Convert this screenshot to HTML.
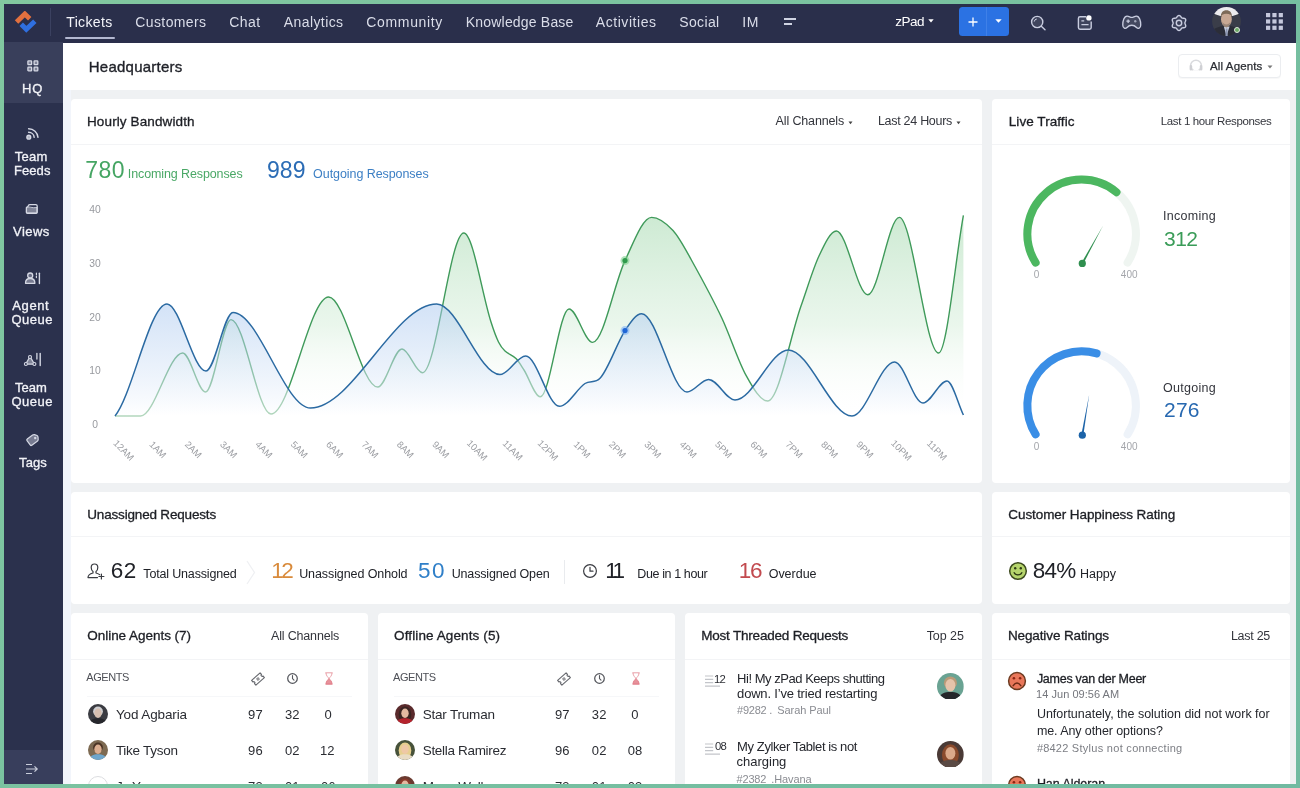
<!DOCTYPE html>
<html><head><meta charset="utf-8"><title>Headquarters</title>
<style>
html,body{margin:0;padding:0}
body{width:1300px;height:788px;overflow:hidden;position:relative;background:#76c4a0;font-family:"Liberation Sans",sans-serif}
#app{position:absolute;left:0;top:0;width:1300px;height:788px;overflow:hidden}
.t{position:absolute;white-space:nowrap;line-height:1}
svg text{font-family:"Liberation Sans",sans-serif}
</style></head><body><div id="app">
<div style="position:absolute;left:0;top:0;width:1300px;height:788px;background:#eff1f3"></div>
<div style="position:absolute;left:0;top:0;width:1300px;height:42.6px;background:#2a2f4b"></div>
<div style="position:absolute;left:0;top:42px;width:63px;height:746px;background:#2b314d"></div>
<div style="position:absolute;left:0;top:42px;width:63px;height:60.5px;background:#393f5b"></div>
<div style="position:absolute;left:0;top:750px;width:63px;height:38px;background:#383e5c"></div>
<div style="position:absolute;left:49.5px;top:8px;width:1px;height:28px;background:#3b4160"></div>
<svg style="position:absolute;left:13.6px;top:10.6px" width="25.5" height="25.5" viewBox="0 0 24 24">
<path d="M2.4,10.4 L10.2,2.8 L14.8,7.2" fill="none" stroke="#e2703f" stroke-width="4.6" stroke-linejoin="miter"/>
<path d="M6.8,12.4 L11.6,17.2 L19.6,9.6" fill="none" stroke="#2f6fe0" stroke-width="4.6" stroke-linejoin="miter"/>
</svg>
<span class="t" style="left:66.3px;top:15.0px;font-size:14px;color:#f4f5fa;letter-spacing:0.34px;">Tickets</span>
<span class="t" style="left:135.3px;top:15.0px;font-size:14px;color:#dadde9;letter-spacing:0.39px;">Customers</span>
<span class="t" style="left:229.3px;top:15.0px;font-size:14px;color:#dadde9;letter-spacing:0.41px;">Chat</span>
<span class="t" style="left:283.8px;top:15.0px;font-size:14px;color:#dadde9;letter-spacing:0.41px;">Analytics</span>
<span class="t" style="left:366.3px;top:15.0px;font-size:14px;color:#dadde9;letter-spacing:0.66px;">Community</span>
<span class="t" style="left:465.8px;top:15.0px;font-size:14px;color:#dadde9;letter-spacing:0.19px;">Knowledge Base</span>
<span class="t" style="left:595.8px;top:15.0px;font-size:14px;color:#dadde9;letter-spacing:0.55px;">Activities</span>
<span class="t" style="left:679.3px;top:15.0px;font-size:14px;color:#dadde9;letter-spacing:0.34px;">Social</span>
<span class="t" style="left:742.3px;top:15.0px;font-size:14px;color:#dadde9;letter-spacing:0.57px;">IM</span>
<div style="position:absolute;left:64.5px;top:37.2px;width:50.8px;height:1.6px;background:#b3b8d0;border-radius:1px"></div>
<div style="position:absolute;left:784px;top:18px;width:12px;height:1.5px;background:#cfd3e2"></div>
<div style="position:absolute;left:784px;top:23px;width:8px;height:1.5px;background:#cfd3e2"></div>
<span class="t" style="left:895.2px;top:15.2px;font-size:13.5px;color:#ffffff;letter-spacing:-0.47px;">zPad</span>
<svg style="position:absolute;left:928px;top:19.4px" width="6" height="4"><path d="M0.3,0.3L5.7,0.3L3,3.6Z" fill="#fff"/></svg>
<div style="position:absolute;left:959px;top:7px;width:49.5px;height:28.5px;background:#2b72e3;border-radius:3.5px"></div>
<div style="position:absolute;left:986.3px;top:7px;width:1px;height:28.5px;background:#3f80e8"></div>
<svg style="position:absolute;left:968px;top:16.5px" width="10" height="10"><path d="M5,0.5V9.5M0.5,5H9.5" stroke="#fff" stroke-width="1.3" fill="none"/></svg>
<svg style="position:absolute;left:995px;top:19.3px" width="7" height="4"><path d="M0.3,0.3L6.7,0.3L3.5,3.8Z" fill="#fff"/></svg>
<svg style="position:absolute;left:1029px;top:14px" width="18" height="18" viewBox="0 0 18 18" fill="none" stroke="#c9cde0" stroke-width="1.4">
<circle cx="8.2" cy="8" r="5.6" fill="rgba(255,255,255,0.10)"/><path d="M12.3,12.2L16,15.8" stroke-linecap="round"/><path d="M5.2,7.6a3,3 0 0 1 2.6,-2.6" stroke-width="1"/></svg>
<svg style="position:absolute;left:1076px;top:14px" width="18" height="18" viewBox="0 0 18 18" fill="none" stroke="#c9cde0" stroke-width="1.4">
<path d="M10,2.8H4A1.6,1.6 0 0 0 2.4,4.4V13.6A1.6,1.6 0 0 0 4,15.2H13.6A1.6,1.6 0 0 0 15.2,13.6V7.5" fill="rgba(255,255,255,0.10)"/><path d="M5.4,6.8H8.2M5.4,10.6H12.6" stroke-width="1.3"/><circle cx="12.9" cy="3.9" r="2.7" fill="#fff" stroke="none"/></svg>
<svg style="position:absolute;left:1122px;top:15.2px" width="19.5" height="15" viewBox="0 0 20 15" fill="none" stroke="#c9cde0" stroke-width="1.4">
<path d="M5.2,0.9C7.2,0.9 8.4,2.3 10,2.3C11.6,2.3 12.8,0.9 14.8,0.9C17.9,0.9 19.2,6.2 19.2,10C19.2,13.6 16.4,14.2 14.9,12.6C13.5,11.1 12,10.3 10,10.3C8,10.3 6.5,11.1 5.1,12.6C3.6,14.2 0.8,13.6 0.8,10C0.8,6.2 2.1,0.9 5.2,0.9Z" stroke-linejoin="round" fill="rgba(255,255,255,0.12)"/>
<path d="M6.3,4.4V8M4.5,6.2H8.1" stroke-width="1.3"/><circle cx="13.6" cy="6.2" r="1.2" fill="#c9cde0" fill-opacity="0.7" stroke="none"/></svg>
<svg style="position:absolute;left:1169.5px;top:13.7px" width="18" height="18" viewBox="0 0 18 18" fill="none" stroke="#c9cde0" stroke-width="1.4">
<path d="M9.00,1.45L9.65,1.59L10.24,1.98L10.73,2.53L11.15,3.10L11.52,3.59L11.93,3.93L12.42,4.11L13.03,4.19L13.74,4.26L14.46,4.42L15.09,4.73L15.54,5.22L15.74,5.86L15.70,6.56L15.47,7.27L15.18,7.91L14.94,8.48L14.85,9.00L14.94,9.52L15.18,10.09L15.47,10.73L15.70,11.44L15.74,12.14L15.54,12.77L15.09,13.27L14.46,13.58L13.74,13.74L13.03,13.81L12.42,13.89L11.93,14.07L11.52,14.41L11.15,14.90L10.73,15.47L10.24,16.02L9.65,16.41L9.00,16.55L8.35,16.41L7.76,16.02L7.27,15.47L6.85,14.90L6.48,14.41L6.07,14.07L5.58,13.89L4.97,13.81L4.26,13.74L3.54,13.58L2.91,13.27L2.46,12.78L2.26,12.14L2.30,11.44L2.53,10.73L2.82,10.09L3.06,9.52L3.15,9.00L3.06,8.48L2.82,7.91L2.53,7.27L2.30,6.56L2.26,5.86L2.46,5.22L2.91,4.73L3.54,4.42L4.26,4.26L4.97,4.19L5.58,4.11L6.07,3.93L6.48,3.59L6.85,3.10L7.27,2.53L7.76,1.98L8.35,1.59Z" stroke-linejoin="round" fill="rgba(255,255,255,0.08)"/><circle cx="9" cy="9" r="2.7"/></svg>
<svg style="position:absolute;left:1212px;top:6.8px" width="29" height="29" viewBox="0 0 29 29"><defs><clipPath id="avc"><circle cx="14.5" cy="14.5" r="14.4"/></clipPath></defs>
<g clip-path="url(#avc)"><rect width="29" height="29" fill="#3a3d49"/><ellipse cx="14.5" cy="2" rx="16" ry="7.4" fill="#ecebee"/>
<path d="M0,29V24C3,20.5 8,19.5 10.5,19H18.5C21,19.5 26,20.5 29,24V29Z" fill="#2b2d38"/>
<path d="M11.8,19.5L14.5,29L17.6,19.5Z" fill="#c9cfdf"/><path d="M13.8,21.5H15.4L15.8,29H13.4Z" fill="#8d97b3"/>
<ellipse cx="14.4" cy="12.3" rx="5.4" ry="7.3" fill="#c8a894"/><path d="M8.8,11C8.4,5.5 11,3.2 14.4,3.2C17.8,3.2 20.4,5.5 20,11C19.4,8.2 18,6.8 14.4,6.8C10.8,6.8 9.4,8.2 8.8,11Z" fill="#7d6a58"/>
<path d="M10.3,14.6C11,19.6 12.8,20.4 14.4,20.4C16,20.4 17.8,19.6 18.5,14.6C17.4,17 16,17.4 14.4,17.4C12.8,17.4 11.4,17 10.3,14.6Z" fill="#9a8577"/></g></svg>
<div style="position:absolute;left:1234.2px;top:26.5px;width:4px;height:4px;border-radius:50%;background:#6aa865;border:1.6px solid #dfe8dc"></div>
<svg style="position:absolute;left:1266.2px;top:12.9px" width="17" height="17"><rect x="0.00" y="0.00" width="4.2" height="4.2" fill="#c5c8dc"/><rect x="6.35" y="0.00" width="4.2" height="4.2" fill="#c5c8dc"/><rect x="12.70" y="0.00" width="4.2" height="4.2" fill="#c5c8dc"/><rect x="0.00" y="6.35" width="4.2" height="4.2" fill="#c5c8dc"/><rect x="6.35" y="6.35" width="4.2" height="4.2" fill="#c5c8dc"/><rect x="12.70" y="6.35" width="4.2" height="4.2" fill="#c5c8dc"/><rect x="0.00" y="12.70" width="4.2" height="4.2" fill="#c5c8dc"/><rect x="6.35" y="12.70" width="4.2" height="4.2" fill="#c5c8dc"/><rect x="12.70" y="12.70" width="4.2" height="4.2" fill="#c5c8dc"/></svg>
<span class="t" style="left:21.9px;top:82.0px;font-size:13px;color:#f1f2f7;letter-spacing:0.85px;-webkit-text-stroke:0.32px #f1f2f7;">HQ</span>
<span class="t" style="left:14.7px;top:149.8px;font-size:13px;color:#f1f2f7;letter-spacing:0.25px;-webkit-text-stroke:0.32px #f1f2f7;">Team</span>
<span class="t" style="left:13.9px;top:164.0px;font-size:13px;color:#f1f2f7;letter-spacing:0.09px;-webkit-text-stroke:0.32px #f1f2f7;">Feeds</span>
<span class="t" style="left:13.1px;top:224.8px;font-size:13px;color:#f1f2f7;letter-spacing:0.43px;-webkit-text-stroke:0.32px #f1f2f7;">Views</span>
<span class="t" style="left:12.3px;top:298.8px;font-size:13px;color:#f1f2f7;letter-spacing:0.59px;-webkit-text-stroke:0.32px #f1f2f7;">Agent</span>
<span class="t" style="left:11.5px;top:312.8px;font-size:13px;color:#f1f2f7;letter-spacing:0.47px;-webkit-text-stroke:0.32px #f1f2f7;">Queue</span>
<span class="t" style="left:15.1px;top:380.8px;font-size:13px;color:#f1f2f7;letter-spacing:-0.02px;-webkit-text-stroke:0.32px #f1f2f7;">Team</span>
<span class="t" style="left:11.5px;top:394.8px;font-size:13px;color:#f1f2f7;letter-spacing:0.47px;-webkit-text-stroke:0.32px #f1f2f7;">Queue</span>
<span class="t" style="left:19.1px;top:455.8px;font-size:13px;color:#f1f2f7;letter-spacing:0.06px;-webkit-text-stroke:0.32px #f1f2f7;">Tags</span>
<svg style="position:absolute;left:27px;top:60.3px" width="12" height="12" viewBox="0 0 12 12" fill="#d5d8e4" fill-opacity="0.45" stroke="#d5d8e4" stroke-width="1.3">
<rect x="0.9" y="0.9" width="3.7" height="3.7" rx="0.6"/><rect x="7.1" y="0.9" width="3.7" height="3.7" rx="0.6"/><rect x="0.9" y="7.1" width="3.7" height="3.7" rx="0.6"/><rect x="7.1" y="7.1" width="3.7" height="3.7" rx="0.6"/></svg>
<svg style="position:absolute;left:0;top:0" width="64" height="500" fill="none" stroke="#d5d8e4" stroke-width="1.4" stroke-linecap="round">
<circle cx="28.8" cy="137.2" r="1.9" fill="#d5d8e4" fill-opacity="0.8"/><path d="M28.6,132.3A5.6,5.6 0 0 1 34.2,137.4"/><path d="M28.6,128.7A9.4,9.4 0 0 1 38,137.4"/>
<!-- views -->
<path d="M26.4,207.6V212.3Q26.4,213.3 27.4,213.3H36.2Q37.2,213.3 37.2,212.3V206Q37.2,204.6 35.8,204.6H30Q28.8,204.6 28.4,205.6L27.6,206.8Q26.4,206.9 26.4,207.6Z" stroke-width="1.3" stroke-linejoin="round"/>
<path d="M26.8,207.6C29,205.6 31.5,208.6 37,207.4V212.8H26.8Z" fill="#d5d8e4" fill-opacity="0.5" stroke-width="0.9"/>
<!-- agent queue -->
<circle cx="30.2" cy="275.5" r="2.5" stroke-width="1.3" fill="#d5d8e4" fill-opacity="0.35"/>
<path d="M25.5,283.3C25.5,279.6 27.6,278.5 30.2,278.5C32.8,278.5 34.9,279.6 34.9,283.3Z" stroke-width="1.3" stroke-linejoin="round" fill="#d5d8e4" fill-opacity="0.45"/>
<path d="M36.4,273.2V274.6M36.4,276V277.6" stroke-width="1.2"/><path d="M39.4,273.2V283.5" stroke-width="1.4"/>
<!-- team queue -->
<path d="M30,356.6L25.6,364.2H34.6Z" stroke-width="1.2" stroke-linejoin="round" fill="#d5d8e4" fill-opacity="0.5"/>
<circle cx="30" cy="357" r="1.5" fill="#2b314d" stroke-width="1.1"/><circle cx="25.9" cy="364" r="1.5" fill="#2b314d" stroke-width="1.1"/><circle cx="34.4" cy="364" r="1.5" fill="#2b314d" stroke-width="1.1"/>
<path d="M36.9,353.4V359" stroke-width="1.3"/><path d="M40.2,353.4V365.5" stroke-width="1.4"/>
<!-- tags -->
<g transform="rotate(-36 32.8 439.7)"><path d="M27.6,437V442.4Q27.6,443.6 28.8,443.6H35.4Q36.4,443.6 37.2,442.8L38.6,440.6Q39,439.7 38.6,438.8L37.2,436.6Q36.4,435.8 35.4,435.8H28.8Q27.6,435.8 27.6,437Z" stroke-width="1.2" fill="#d5d8e4" fill-opacity="0.45"/><circle cx="35.8" cy="439.7" r="1.2" fill="#d5d8e4" stroke="none"/></g>
</svg>
<svg style="position:absolute;left:24px;top:762.7px" width="15" height="12" viewBox="0 0 15 12" fill="none" stroke="#c9cddb" stroke-width="1.2">
<path d="M2,1.5H8M2,6H13M2,10.5H8M10.5,3.4L13.2,6L10.5,8.6"/></svg>
<div style="position:absolute;left:63px;top:43px;width:1237px;height:47px;background:#fff"></div>
<div style="position:absolute;left:63px;top:90px;width:8px;height:698px;background:#f2f5fb"></div>
<span class="t" style="left:88.8px;top:58.7px;font-size:15px;color:#1f2128;letter-spacing:0.23px;-webkit-text-stroke:0.35px #1f2128;">Headquarters</span>
<div style="position:absolute;left:1178px;top:54px;width:103px;height:24px;border:1px solid #ebedf0;border-radius:4px;box-sizing:border-box;background:#fff;box-shadow:0 1px 1px rgba(0,0,0,.03)"></div>
<svg style="position:absolute;left:1188px;top:58px" width="16" height="16" viewBox="0 0 16 16" fill="none" stroke="#c9cbd0" stroke-width="1.6">
<circle cx="8" cy="7.6" r="5.4" stroke="#d9dadd" stroke-width="1.5"/><path d="M2.9,8.2V11.2M13.1,8.2V11.2" stroke="#cfd0d4" stroke-width="2.6" stroke-linecap="round"/><path d="M5,13.4H11" stroke="#ffffff" stroke-width="2.4"/></svg>
<span class="t" style="left:1210.1px;top:60.5px;font-size:11.5px;color:#2b2d33;letter-spacing:0.11px;-webkit-text-stroke:0.25px #2b2d33;">All Agents</span>
<svg style="position:absolute;left:1267px;top:64.5px" width="6" height="4"><path d="M0.5,0.5H5.5L3,3.5Z" fill="#777"/></svg>
<div style="position:absolute;left:71px;top:99px;width:911px;height:384px;background:#fff;border-radius:4px"></div>
<div style="position:absolute;left:992px;top:99px;width:298px;height:384px;background:#fff;border-radius:4px"></div>
<div style="position:absolute;left:71px;top:492px;width:911px;height:112px;background:#fff;border-radius:4px"></div>
<div style="position:absolute;left:992px;top:492px;width:298px;height:112px;background:#fff;border-radius:4px"></div>
<div style="position:absolute;left:71px;top:613px;width:297px;height:187px;background:#fff;border-radius:4px"></div>
<div style="position:absolute;left:378px;top:613px;width:297px;height:187px;background:#fff;border-radius:4px"></div>
<div style="position:absolute;left:685px;top:613px;width:297px;height:187px;background:#fff;border-radius:4px"></div>
<div style="position:absolute;left:992px;top:613px;width:298px;height:187px;background:#fff;border-radius:4px"></div>
<div style="position:absolute;left:71px;top:144px;width:911px;height:1px;background:#f3f4f6"></div>
<div style="position:absolute;left:992px;top:144px;width:298px;height:1px;background:#f3f4f6"></div>
<div style="position:absolute;left:71px;top:536px;width:911px;height:1px;background:#f3f4f6"></div>
<div style="position:absolute;left:992px;top:536px;width:298px;height:1px;background:#f3f4f6"></div>
<div style="position:absolute;left:71px;top:659px;width:297px;height:1px;background:#f3f4f6"></div>
<div style="position:absolute;left:378px;top:659px;width:297px;height:1px;background:#f3f4f6"></div>
<div style="position:absolute;left:685px;top:659px;width:297px;height:1px;background:#f3f4f6"></div>
<div style="position:absolute;left:992px;top:659px;width:298px;height:1px;background:#f3f4f6"></div>
<div style="position:absolute;left:87px;top:696px;width:265px;height:1px;background:#f6f7f9"></div>
<div style="position:absolute;left:394px;top:696px;width:265px;height:1px;background:#f6f7f9"></div>
<span class="t" style="left:87.0px;top:114.8px;font-size:13.5px;color:#1d1f25;letter-spacing:0.12px;-webkit-text-stroke:0.32px #1d1f25;">Hourly Bandwidth</span>
<span class="t" style="left:1008.8px;top:114.8px;font-size:13.5px;color:#1d1f25;letter-spacing:0.06px;-webkit-text-stroke:0.32px #1d1f25;">Live Traffic</span>
<span class="t" style="left:87.3px;top:507.5px;font-size:13.5px;color:#1d1f25;letter-spacing:-0.18px;-webkit-text-stroke:0.32px #1d1f25;">Unassigned Requests</span>
<span class="t" style="left:1008.3px;top:507.5px;font-size:13.5px;color:#1d1f25;letter-spacing:-0.08px;-webkit-text-stroke:0.32px #1d1f25;">Customer Happiness Rating</span>
<span class="t" style="left:87.3px;top:629.4px;font-size:13.5px;color:#1d1f25;letter-spacing:-0.04px;-webkit-text-stroke:0.32px #1d1f25;">Online Agents (7)</span>
<span class="t" style="left:394.1px;top:629.4px;font-size:13.5px;color:#1d1f25;letter-spacing:0.11px;-webkit-text-stroke:0.32px #1d1f25;">Offline Agents (5)</span>
<span class="t" style="left:701.2px;top:629.4px;font-size:13.5px;color:#1d1f25;letter-spacing:-0.20px;-webkit-text-stroke:0.32px #1d1f25;">Most Threaded Requests</span>
<span class="t" style="left:1007.9px;top:629.4px;font-size:13.5px;color:#1d1f25;letter-spacing:-0.11px;-webkit-text-stroke:0.32px #1d1f25;">Negative Ratings</span>
<span class="t" style="left:775.6px;top:115.1px;font-size:12.5px;color:#33353c;letter-spacing:-0.14px;">All Channels</span>
<span class="t" style="left:877.9px;top:115.1px;font-size:12.5px;color:#33353c;letter-spacing:-0.28px;">Last 24 Hours</span>
<svg style="position:absolute;left:848px;top:121px" width="5" height="4"><path d="M0.5,0.5H4.5L2.5,3.2Z" fill="#444"/></svg>
<svg style="position:absolute;left:956px;top:121px" width="5" height="4"><path d="M0.5,0.5H4.5L2.5,3.2Z" fill="#444"/></svg>
<span class="t" style="left:1160.8px;top:116.0px;font-size:11.5px;color:#33353c;letter-spacing:-0.37px;">Last 1 hour Responses</span>
<span class="t" style="left:271.0px;top:630.0px;font-size:12.5px;color:#33353c;letter-spacing:-0.17px;">All Channels</span>
<span class="t" style="left:926.7px;top:630.0px;font-size:12.5px;color:#33353c;letter-spacing:-0.07px;">Top 25</span>
<span class="t" style="left:1230.9px;top:630.0px;font-size:12.5px;color:#33353c;letter-spacing:-0.27px;">Last 25</span>
<span class="t" style="left:85.3px;top:159.4px;font-size:23px;color:#45a563;letter-spacing:0.47px;">780</span>
<span class="t" style="left:127.8px;top:168.3px;font-size:12.5px;color:#4aa866;letter-spacing:-0.11px;">Incoming Responses</span>
<span class="t" style="left:267.0px;top:159.4px;font-size:23px;color:#2b6cb5;letter-spacing:0.04px;">989</span>
<span class="t" style="left:313.1px;top:168.3px;font-size:12.5px;color:#3c7fc4;letter-spacing:-0.07px;">Outgoing Responses</span>
<svg style="position:absolute;left:0;top:0" width="1300" height="788" viewBox="0 0 1300 788"><defs>
<linearGradient id="gg" gradientUnits="userSpaceOnUse" x1="0" y1="215" x2="0" y2="416"><stop offset="0" stop-color="#57b86a" stop-opacity="0.30"/><stop offset="0.55" stop-color="#7cc98a" stop-opacity="0.16"/><stop offset="1" stop-color="#ffffff" stop-opacity="0"/></linearGradient>
<linearGradient id="bg" gradientUnits="userSpaceOnUse" x1="0" y1="300" x2="0" y2="416"><stop offset="0" stop-color="#a4c4ee" stop-opacity="0.5"/><stop offset="0.5" stop-color="#cfe0f6" stop-opacity="0.5"/><stop offset="1" stop-color="#ffffff" stop-opacity="0.6"/></linearGradient>
</defs><path d="M115.0,416.0C123.5,416.0 132.1,416.0 140.6,416.0C154.6,416.0 168.7,353.0 182.7,353.0C190.3,353.0 197.9,392.0 205.5,392.0C214.0,392.0 222.5,319.6 231.0,319.6C244.3,319.6 257.7,414.0 271.0,414.0C290.2,414.0 309.4,297.0 328.6,297.0C345.0,297.0 361.3,387.0 377.7,387.0C385.8,387.0 393.9,349.0 402.0,349.0C408.8,349.0 415.7,372.7 422.5,372.7C436.3,372.7 450.0,233.0 463.8,233.0C472.9,233.0 481.9,293.5 491.0,322.0C493.5,329.9 496.0,336.8 498.5,342.0C500.7,346.5 502.8,349.0 505.0,351.0C508.7,354.5 512.3,354.8 516.0,358.5C518.7,361.2 521.3,365.8 524.0,370.0C529.4,378.6 534.9,396.8 540.3,396.8C549.9,396.8 559.4,309.0 569.0,309.0C576.9,309.0 584.7,342.4 592.6,342.4C603.4,342.4 614.2,283.5 625.0,260.6C633.9,241.8 642.7,217.4 651.6,217.4C658.7,217.4 665.9,222.9 673.0,230.5C679.1,237.1 685.3,249.0 691.4,260.0C701.5,278.2 711.7,296.6 721.8,318.0C729.9,335.2 738.1,361.0 746.2,375.7C753.3,388.6 760.5,401.0 767.6,401.0C778.7,401.0 789.9,337.4 801.0,306.0C807.1,288.9 813.1,268.4 819.2,255.5C824.9,243.4 830.7,231.0 836.4,231.0C846.9,231.0 857.3,294.8 867.8,294.8C878.3,294.8 888.8,217.4 899.3,217.4C912.4,217.4 925.5,353.0 938.6,353.0C946.9,353.0 955.1,261.3 963.4,215.4L963.4,417L115,417Z" fill="url(#gg)"/><path d="M115.0,416.0C123.5,416.0 132.1,416.0 140.6,416.0C154.6,416.0 168.7,353.0 182.7,353.0C190.3,353.0 197.9,392.0 205.5,392.0C214.0,392.0 222.5,319.6 231.0,319.6C244.3,319.6 257.7,414.0 271.0,414.0C290.2,414.0 309.4,297.0 328.6,297.0C345.0,297.0 361.3,387.0 377.7,387.0C385.8,387.0 393.9,349.0 402.0,349.0C408.8,349.0 415.7,372.7 422.5,372.7C436.3,372.7 450.0,233.0 463.8,233.0C472.9,233.0 481.9,293.5 491.0,322.0C493.5,329.9 496.0,336.8 498.5,342.0C500.7,346.5 502.8,349.0 505.0,351.0C508.7,354.5 512.3,354.8 516.0,358.5C518.7,361.2 521.3,365.8 524.0,370.0C529.4,378.6 534.9,396.8 540.3,396.8C549.9,396.8 559.4,309.0 569.0,309.0C576.9,309.0 584.7,342.4 592.6,342.4C603.4,342.4 614.2,283.5 625.0,260.6C633.9,241.8 642.7,217.4 651.6,217.4C658.7,217.4 665.9,222.9 673.0,230.5C679.1,237.1 685.3,249.0 691.4,260.0C701.5,278.2 711.7,296.6 721.8,318.0C729.9,335.2 738.1,361.0 746.2,375.7C753.3,388.6 760.5,401.0 767.6,401.0C778.7,401.0 789.9,337.4 801.0,306.0C807.1,288.9 813.1,268.4 819.2,255.5C824.9,243.4 830.7,231.0 836.4,231.0C846.9,231.0 857.3,294.8 867.8,294.8C878.3,294.8 888.8,217.4 899.3,217.4C912.4,217.4 925.5,353.0 938.6,353.0C946.9,353.0 955.1,261.3 963.4,215.4" fill="none" stroke="#3f9a5a" stroke-width="1.4"/><path d="M115.0,416.0C132.3,395.2 149.7,304.0 167.0,304.0C180.0,304.0 193.0,371.0 206.0,371.0C215.0,371.0 224.0,312.5 233.0,312.5C258.8,312.5 284.7,408.0 310.5,408.0C352.6,408.0 394.6,304.0 436.7,304.0C457.8,304.0 478.9,374.6 500.0,374.6C508.6,374.6 517.1,356.0 525.7,356.0C536.9,356.0 548.1,406.3 559.3,406.3C567.9,406.3 576.4,389.4 585.0,383.5C590.0,380.1 595.0,383.5 600.0,378.3C608.3,369.6 616.7,343.5 625.0,330.6C630.6,322.0 636.1,313.7 641.7,313.7C656.8,313.7 671.9,392.0 687.0,392.0C694.2,392.0 701.4,379.4 708.6,379.4C717.4,379.4 726.2,400.0 735.0,400.0C752.8,400.0 770.6,350.0 788.4,350.0C809.6,350.0 830.8,416.0 852.0,416.0C866.2,416.0 880.4,362.0 894.6,362.0C904.1,362.0 913.5,403.0 923.0,403.0C931.0,403.0 939.0,381.0 947.0,381.0C952.5,381.0 957.9,403.7 963.4,415.0L963.4,417L115,417Z" fill="url(#bg)"/><path d="M115.0,416.0C132.3,395.2 149.7,304.0 167.0,304.0C180.0,304.0 193.0,371.0 206.0,371.0C215.0,371.0 224.0,312.5 233.0,312.5C258.8,312.5 284.7,408.0 310.5,408.0C352.6,408.0 394.6,304.0 436.7,304.0C457.8,304.0 478.9,374.6 500.0,374.6C508.6,374.6 517.1,356.0 525.7,356.0C536.9,356.0 548.1,406.3 559.3,406.3C567.9,406.3 576.4,389.4 585.0,383.5C590.0,380.1 595.0,383.5 600.0,378.3C608.3,369.6 616.7,343.5 625.0,330.6C630.6,322.0 636.1,313.7 641.7,313.7C656.8,313.7 671.9,392.0 687.0,392.0C694.2,392.0 701.4,379.4 708.6,379.4C717.4,379.4 726.2,400.0 735.0,400.0C752.8,400.0 770.6,350.0 788.4,350.0C809.6,350.0 830.8,416.0 852.0,416.0C866.2,416.0 880.4,362.0 894.6,362.0C904.1,362.0 913.5,403.0 923.0,403.0C931.0,403.0 939.0,381.0 947.0,381.0C952.5,381.0 957.9,403.7 963.4,415.0" fill="none" stroke="#2b6aa2" stroke-width="1.5"/><circle cx="625" cy="260.6" r="4.5" fill="#7fd08d" fill-opacity="0.6"/><circle cx="625" cy="260.6" r="2.6" fill="#2f9a4c"/><circle cx="625" cy="330.6" r="4.5" fill="#7fb2f5" fill-opacity="0.6"/><circle cx="625" cy="330.6" r="2.6" fill="#1f66d6"/><text x="95" y="213.4" text-anchor="middle" font-size="10.3" fill="#97999e">40</text><text x="95" y="266.9" text-anchor="middle" font-size="10.3" fill="#97999e">30</text><text x="95" y="320.5" text-anchor="middle" font-size="10.3" fill="#97999e">20</text><text x="95" y="374.1" text-anchor="middle" font-size="10.3" fill="#97999e">10</text><text x="95" y="427.6" text-anchor="middle" font-size="10.3" fill="#97999e">0</text><text x="123.8" y="453.5" text-anchor="middle" font-size="9.4" fill="#9b9da2" transform="rotate(45 123.8 450.2)">12AM</text><text x="157.9" y="452.9" text-anchor="middle" font-size="9.4" fill="#9b9da2" transform="rotate(45 157.9 449.6)">1AM</text><text x="193.3" y="452.9" text-anchor="middle" font-size="9.4" fill="#9b9da2" transform="rotate(45 193.3 449.6)">2AM</text><text x="228.7" y="452.9" text-anchor="middle" font-size="9.4" fill="#9b9da2" transform="rotate(45 228.7 449.6)">3AM</text><text x="264.0" y="452.9" text-anchor="middle" font-size="9.4" fill="#9b9da2" transform="rotate(45 264.0 449.6)">4AM</text><text x="299.4" y="452.9" text-anchor="middle" font-size="9.4" fill="#9b9da2" transform="rotate(45 299.4 449.6)">5AM</text><text x="334.7" y="452.9" text-anchor="middle" font-size="9.4" fill="#9b9da2" transform="rotate(45 334.7 449.6)">6AM</text><text x="370.1" y="452.9" text-anchor="middle" font-size="9.4" fill="#9b9da2" transform="rotate(45 370.1 449.6)">7AM</text><text x="405.4" y="452.9" text-anchor="middle" font-size="9.4" fill="#9b9da2" transform="rotate(45 405.4 449.6)">8AM</text><text x="440.8" y="452.9" text-anchor="middle" font-size="9.4" fill="#9b9da2" transform="rotate(45 440.8 449.6)">9AM</text><text x="477.3" y="453.5" text-anchor="middle" font-size="9.4" fill="#9b9da2" transform="rotate(45 477.3 450.2)">10AM</text><text x="512.7" y="453.5" text-anchor="middle" font-size="9.4" fill="#9b9da2" transform="rotate(45 512.7 450.2)">11AM</text><text x="548.0" y="453.5" text-anchor="middle" font-size="9.4" fill="#9b9da2" transform="rotate(45 548.0 450.2)">12PM</text><text x="582.1" y="452.9" text-anchor="middle" font-size="9.4" fill="#9b9da2" transform="rotate(45 582.1 449.6)">1PM</text><text x="617.5" y="452.9" text-anchor="middle" font-size="9.4" fill="#9b9da2" transform="rotate(45 617.5 449.6)">2PM</text><text x="652.9" y="452.9" text-anchor="middle" font-size="9.4" fill="#9b9da2" transform="rotate(45 652.9 449.6)">3PM</text><text x="688.2" y="452.9" text-anchor="middle" font-size="9.4" fill="#9b9da2" transform="rotate(45 688.2 449.6)">4PM</text><text x="723.6" y="452.9" text-anchor="middle" font-size="9.4" fill="#9b9da2" transform="rotate(45 723.6 449.6)">5PM</text><text x="758.9" y="452.9" text-anchor="middle" font-size="9.4" fill="#9b9da2" transform="rotate(45 758.9 449.6)">6PM</text><text x="794.2" y="452.9" text-anchor="middle" font-size="9.4" fill="#9b9da2" transform="rotate(45 794.2 449.6)">7PM</text><text x="829.6" y="452.9" text-anchor="middle" font-size="9.4" fill="#9b9da2" transform="rotate(45 829.6 449.6)">8PM</text><text x="865.0" y="452.9" text-anchor="middle" font-size="9.4" fill="#9b9da2" transform="rotate(45 865.0 449.6)">9PM</text><text x="901.5" y="453.5" text-anchor="middle" font-size="9.4" fill="#9b9da2" transform="rotate(45 901.5 450.2)">10PM</text><text x="936.9" y="453.5" text-anchor="middle" font-size="9.4" fill="#9b9da2" transform="rotate(45 936.9 450.2)">11PM</text><path d="M1035.6,262.6A54.3,54.3 0 1 1 1127.6,262.6" fill="none" stroke="#eff5f1" stroke-width="8" stroke-linecap="round"/><path d="M1035.6,262.6A54.3,54.3 0 0 1 1116.5,192.2" fill="none" stroke="#4cb760" stroke-width="8" stroke-linecap="round"/><path d="M1083.2,263.9L1103.0,225.7L1081.4,262.9Z" fill="#2f8f4f"/><circle cx="1082.3" cy="263.4" r="3.6" fill="#2f8f4f"/><text x="1036.6" y="278.4" text-anchor="middle" font-size="10" fill="#a4a6ab">0</text><text x="1129.2" y="278.4" text-anchor="middle" font-size="10" fill="#a4a6ab">400</text><path d="M1035.6,434.4A54.3,54.3 0 1 1 1127.6,434.4" fill="none" stroke="#eef3f9" stroke-width="8" stroke-linecap="round"/><path d="M1035.6,434.4A54.3,54.3 0 0 1 1096.6,353.4" fill="none" stroke="#3a8ee6" stroke-width="8" stroke-linecap="round"/><path d="M1083.3,435.4L1089.3,394.0L1081.3,435.0Z" fill="#1c63a8"/><circle cx="1082.3" cy="435.2" r="3.6" fill="#1c63a8"/><text x="1036.6" y="450.2" text-anchor="middle" font-size="10" fill="#a4a6ab">0</text><text x="1129.2" y="450.2" text-anchor="middle" font-size="10" fill="#a4a6ab">400</text></svg>
<span class="t" style="left:1163.0px;top:210.1px;font-size:12.5px;color:#33353c;letter-spacing:0.27px;">Incoming</span>
<span class="t" style="left:1164.1px;top:228.3px;font-size:21px;color:#3a9c58;letter-spacing:-0.55px;">312</span>
<span class="t" style="left:1163.0px;top:381.6px;font-size:12.5px;color:#33353c;letter-spacing:0.27px;">Outgoing</span>
<span class="t" style="left:1164.1px;top:399.4px;font-size:21px;color:#2768b0;letter-spacing:0.12px;">276</span>
<svg style="position:absolute;left:87px;top:563px" width="18" height="17" viewBox="0 0 18 17" fill="none" stroke="#3a3c42" stroke-width="1.2" stroke-linecap="round" stroke-linejoin="round">
<path d="M7.5,1C9.6,1 10.8,2.6 10.8,4.6C10.8,6.6 9.8,8 9,8.6V10C11,10.6 12,11 12.6,11.6M7.5,1C5.4,1 4.2,2.6 4.2,4.6C4.2,6.6 5.2,8 6,8.6V10C3,10.8 1,11.6 1,14.6H10.5"/><path d="M14.4,11V16M11.9,13.5H16.9"/></svg>
<span class="t" style="left:110.8px;top:560.0px;font-size:22.5px;color:#202228;letter-spacing:0.34px;">62</span>
<span class="t" style="left:143.3px;top:568.4px;font-size:12.5px;color:#202228;letter-spacing:-0.16px;">Total Unassigned</span>
<svg style="position:absolute;left:246px;top:560px" width="10" height="25" fill="none" stroke="#eff0f3" stroke-width="1.3"><path d="M1,1L8.5,12.5L1,24"/></svg>
<span class="t" style="left:271.2px;top:560.0px;font-size:22.5px;color:#d98b3c;letter-spacing:-2.46px;">12</span>
<span class="t" style="left:299.2px;top:568.4px;font-size:12.5px;color:#202228;letter-spacing:-0.09px;">Unassigned Onhold</span>
<span class="t" style="left:417.9px;top:560.0px;font-size:22.5px;color:#2f7fc8;letter-spacing:1.54px;">50</span>
<span class="t" style="left:451.7px;top:568.4px;font-size:12.5px;color:#202228;letter-spacing:-0.15px;">Unassigned Open</span>
<div style="position:absolute;left:563.5px;top:560px;width:1px;height:24px;background:#e9ebee"></div>
<svg style="position:absolute;left:582px;top:562.5px" width="16" height="16" viewBox="0 0 16 16" fill="none" stroke="#3a3c42" stroke-width="1.2" stroke-linecap="round"><circle cx="8" cy="8" r="6.4"/><path d="M8,4.3V8.2H11"/></svg>
<span class="t" style="left:605.2px;top:560.0px;font-size:22.5px;color:#202228;letter-spacing:-3.43px;">11</span>
<span class="t" style="left:637.3px;top:568.4px;font-size:12.5px;color:#202228;letter-spacing:-0.39px;">Due in 1 hour</span>
<span class="t" style="left:738.7px;top:560.0px;font-size:22.5px;color:#c24a4f;letter-spacing:-1.11px;">16</span>
<span class="t" style="left:768.7px;top:568.4px;font-size:12.5px;color:#202228;letter-spacing:-0.02px;">Overdue</span>
<svg style="position:absolute;left:1008px;top:560.5px" width="20" height="20" viewBox="0 0 20 20"><circle cx="10" cy="10" r="8.3" fill="#b5d46c" stroke="#3c4a1e" stroke-width="1.5"/><circle cx="7.2" cy="7.3" r="1.2" fill="#2e3a14"/><circle cx="12.8" cy="7.3" r="1.2" fill="#2e3a14"/><path d="M6.2,11.6C7.2,14.6 12.8,14.6 13.8,11.6" fill="none" stroke="#2e3a14" stroke-width="1.4" stroke-linecap="round"/></svg>
<span class="t" style="left:1032.8px;top:560.0px;font-size:22.5px;color:#202228;letter-spacing:-0.78px;">84%</span>
<span class="t" style="left:1080.1px;top:568.4px;font-size:12.5px;color:#202228;letter-spacing:-0.05px;">Happy</span>
<span class="t" style="left:86.3px;top:672.3px;font-size:11px;color:#4e5057;letter-spacing:-0.44px;">AGENTS</span>
<svg style="position:absolute;left:250.60000000000002px;top:671.6px" width="14" height="14" viewBox="0 0 14 14" fill="none" stroke="#66686e" stroke-width="1.15" stroke-linejoin="round"><g transform="rotate(-42 7 7)"><path d="M1.3,3.8H12.7V5.9A1.1,1.1 0 0 0 12.7,8.1V10.2H1.3V8.1A1.1,1.1 0 0 0 1.3,5.9Z"/><path d="M5.6,5.6L8.4,8.4M8.4,5.6L5.6,8.4" stroke-width="0.8"/></g></svg>
<svg style="position:absolute;left:286.4px;top:672.3px" width="13" height="13" viewBox="0 0 13 13" fill="none" stroke="#55575d" stroke-width="1.25" stroke-linecap="round"><circle cx="6.5" cy="6.5" r="4.8"/><path d="M6.5,3.6V6.6L8,8.2" stroke-width="1.1"/></svg>
<svg style="position:absolute;left:324px;top:672.3px" width="10" height="13" viewBox="0 0 10 13" fill="none" stroke="#e27f8a" stroke-width="1" stroke-linejoin="round"><path d="M1.3,0.8H8.7M1.3,12.2H8.7" stroke-opacity="0.75"/><path d="M2,1C2,4 4.4,5.4 5,6.5C5.6,5.4 8,4 8,1" stroke-opacity="0.7"/><path d="M2,12C2,9 4.4,7.6 5,6.5C5.6,7.6 8,9 8,12Z" fill="#e27f8a" fill-opacity="0.85"/></svg>
<svg style="position:absolute;left:88px;top:704.2px" width="20" height="20" viewBox="0 0 20 20"><defs><clipPath id="a1"><circle cx="10" cy="10" r="10"/></clipPath></defs><g clip-path="url(#a1)"><rect width="20" height="20" fill="#3b3c42"/><ellipse cx="10" cy="7.4" rx="4.9" ry="4.8" fill="#cfcfd2"/><path d="M1.5,20C1.5,15.6 5.5,14.2 10,14.2C14.5,14.2 18.5,15.6 18.5,20Z" fill="#26272c"/><ellipse cx="10" cy="9.2" rx="3.7" ry="4.7" fill="#d6bfb0"/></g></svg>
<span class="t" style="left:115.9px;top:708.2px;font-size:13.5px;color:#2a2c32;letter-spacing:-0.11px;">Yod Agbaria</span>
<span class="t" style="left:248.1px;top:707.7px;font-size:13px;color:#2a2c32;letter-spacing:0.10px;">97</span>
<span class="t" style="left:285.0px;top:707.7px;font-size:13px;color:#2a2c32;letter-spacing:0.10px;">32</span>
<span class="t" style="left:324.5px;top:707.7px;font-size:13px;color:#2a2c32;letter-spacing:0.20px;">0</span>
<svg style="position:absolute;left:88px;top:740.2px" width="20" height="20" viewBox="0 0 20 20"><defs><clipPath id="a2"><circle cx="10" cy="10" r="10"/></clipPath></defs><g clip-path="url(#a2)"><rect width="20" height="20" fill="#7d6a52"/><ellipse cx="10" cy="7.4" rx="4.9" ry="4.8" fill="#4a3324"/><path d="M1.5,20C1.5,15.6 5.5,14.2 10,14.2C14.5,14.2 18.5,15.6 18.5,20Z" fill="#6ea6cc"/><ellipse cx="10" cy="9.2" rx="3.7" ry="4.7" fill="#dcae90"/></g></svg>
<span class="t" style="left:115.9px;top:744.1px;font-size:13.5px;color:#2a2c32;letter-spacing:-0.27px;">Tike Tyson</span>
<span class="t" style="left:248.1px;top:743.6px;font-size:13px;color:#2a2c32;letter-spacing:0.10px;">96</span>
<span class="t" style="left:285.0px;top:743.6px;font-size:13px;color:#2a2c32;letter-spacing:0.10px;">02</span>
<span class="t" style="left:320.0px;top:743.6px;font-size:13px;color:#2a2c32;letter-spacing:0.10px;">12</span>
<svg style="position:absolute;left:88px;top:776.2px" width="20" height="20" viewBox="0 0 20 20"><defs><clipPath id="a3"><circle cx="10" cy="10" r="10"/></clipPath></defs><g clip-path="url(#a3)"><rect width="20" height="20" fill="#ffffff"/><ellipse cx="10" cy="7.4" rx="4.9" ry="4.8" fill="#ffffff"/><path d="M1.5,20C1.5,15.6 5.5,14.2 10,14.2C14.5,14.2 18.5,15.6 18.5,20Z" fill="#ffffff"/><ellipse cx="10" cy="9.2" rx="3.7" ry="4.7" fill="#ffffff"/></g><circle cx="10" cy="10" r="9.5" fill="none" stroke="#dcdde0" stroke-width="1"/></svg>
<span class="t" style="left:115.9px;top:780.0px;font-size:13.5px;color:#2a2c32;letter-spacing:-0.53px;">Jo Yang</span>
<span class="t" style="left:248.1px;top:779.5px;font-size:13px;color:#2a2c32;letter-spacing:0.10px;">73</span>
<span class="t" style="left:285.0px;top:779.5px;font-size:13px;color:#2a2c32;letter-spacing:0.10px;">01</span>
<span class="t" style="left:320.9px;top:779.5px;font-size:13px;color:#2a2c32;letter-spacing:0.10px;">06</span>
<span class="t" style="left:393.1px;top:672.3px;font-size:11px;color:#4e5057;letter-spacing:-0.44px;">AGENTS</span>
<svg style="position:absolute;left:557.4000000000001px;top:671.6px" width="14" height="14" viewBox="0 0 14 14" fill="none" stroke="#66686e" stroke-width="1.15" stroke-linejoin="round"><g transform="rotate(-42 7 7)"><path d="M1.3,3.8H12.7V5.9A1.1,1.1 0 0 0 12.7,8.1V10.2H1.3V8.1A1.1,1.1 0 0 0 1.3,5.9Z"/><path d="M5.6,5.6L8.4,8.4M8.4,5.6L5.6,8.4" stroke-width="0.8"/></g></svg>
<svg style="position:absolute;left:593.2px;top:672.3px" width="13" height="13" viewBox="0 0 13 13" fill="none" stroke="#55575d" stroke-width="1.25" stroke-linecap="round"><circle cx="6.5" cy="6.5" r="4.8"/><path d="M6.5,3.6V6.6L8,8.2" stroke-width="1.1"/></svg>
<svg style="position:absolute;left:630.8px;top:672.3px" width="10" height="13" viewBox="0 0 10 13" fill="none" stroke="#e27f8a" stroke-width="1" stroke-linejoin="round"><path d="M1.3,0.8H8.7M1.3,12.2H8.7" stroke-opacity="0.75"/><path d="M2,1C2,4 4.4,5.4 5,6.5C5.6,5.4 8,4 8,1" stroke-opacity="0.7"/><path d="M2,12C2,9 4.4,7.6 5,6.5C5.6,7.6 8,9 8,12Z" fill="#e27f8a" fill-opacity="0.85"/></svg>
<svg style="position:absolute;left:394.8px;top:704.2px" width="20" height="20" viewBox="0 0 20 20"><defs><clipPath id="a4"><circle cx="10" cy="10" r="10"/></clipPath></defs><g clip-path="url(#a4)"><rect width="20" height="20" fill="#5a2a2c"/><ellipse cx="10" cy="10.5" rx="6.3" ry="8" fill="#3a2422"/><path d="M1.5,20C1.5,15.6 5.5,14.2 10,14.2C14.5,14.2 18.5,15.6 18.5,20Z" fill="#b5232d"/><ellipse cx="10" cy="9.2" rx="3.7" ry="4.7" fill="#e3b8a0"/></g></svg>
<span class="t" style="left:422.7px;top:708.2px;font-size:13.5px;color:#2a2c32;letter-spacing:-0.20px;">Star Truman</span>
<span class="t" style="left:554.9px;top:707.7px;font-size:13px;color:#2a2c32;letter-spacing:0.10px;">97</span>
<span class="t" style="left:591.8px;top:707.7px;font-size:13px;color:#2a2c32;letter-spacing:0.10px;">32</span>
<span class="t" style="left:631.3px;top:707.7px;font-size:13px;color:#2a2c32;letter-spacing:0.20px;">0</span>
<svg style="position:absolute;left:394.8px;top:740.2px" width="20" height="20" viewBox="0 0 20 20"><defs><clipPath id="a5"><circle cx="10" cy="10" r="10"/></clipPath></defs><g clip-path="url(#a5)"><rect width="20" height="20" fill="#47523a"/><ellipse cx="10" cy="10.5" rx="6.3" ry="8" fill="#e6cf8e"/><path d="M1.5,20C1.5,15.6 5.5,14.2 10,14.2C14.5,14.2 18.5,15.6 18.5,20Z" fill="#e9dcc4"/><ellipse cx="10" cy="9.2" rx="3.7" ry="4.7" fill="#efc8a6"/></g></svg>
<span class="t" style="left:422.7px;top:744.1px;font-size:13.5px;color:#2a2c32;letter-spacing:-0.31px;">Stella Ramirez</span>
<span class="t" style="left:554.9px;top:743.6px;font-size:13px;color:#2a2c32;letter-spacing:0.10px;">96</span>
<span class="t" style="left:591.8px;top:743.6px;font-size:13px;color:#2a2c32;letter-spacing:0.10px;">02</span>
<span class="t" style="left:627.7px;top:743.6px;font-size:13px;color:#2a2c32;letter-spacing:0.10px;">08</span>
<svg style="position:absolute;left:394.8px;top:776.2px" width="20" height="20" viewBox="0 0 20 20"><defs><clipPath id="a6"><circle cx="10" cy="10" r="10"/></clipPath></defs><g clip-path="url(#a6)"><rect width="20" height="20" fill="#6a3a30"/><ellipse cx="10" cy="10.5" rx="6.3" ry="8" fill="#8a3a2a"/><path d="M1.5,20C1.5,15.6 5.5,14.2 10,14.2C14.5,14.2 18.5,15.6 18.5,20Z" fill="#c04a3a"/><ellipse cx="10" cy="9.2" rx="3.7" ry="4.7" fill="#e5b9a0"/></g></svg>
<span class="t" style="left:422.7px;top:780.0px;font-size:13.5px;color:#2a2c32;letter-spacing:-0.22px;">Maya Walker</span>
<span class="t" style="left:554.9px;top:779.5px;font-size:13px;color:#2a2c32;letter-spacing:0.10px;">73</span>
<span class="t" style="left:591.8px;top:779.5px;font-size:13px;color:#2a2c32;letter-spacing:0.10px;">01</span>
<span class="t" style="left:627.7px;top:779.5px;font-size:13px;color:#2a2c32;letter-spacing:0.10px;">03</span>
<svg style="position:absolute;left:704.5999999999999px;top:675.1999999999999px" width="16" height="12" fill="none" stroke="#c3c5ca" stroke-width="1.2"><path d="M0,1H8.2M0,4.4H8.2M0,7.7H8.2M0,11.1H15"/></svg>
<span class="t" style="left:714.1px;top:673.5px;font-size:11.3px;color:#2e3036;letter-spacing:-0.78px;">12</span>
<span class="t" style="left:737.1px;top:671.6px;font-size:13px;color:#25272d;letter-spacing:-0.47px;">Hi! My zPad Keeps shutting</span>
<span class="t" style="left:737.1px;top:687.4px;font-size:13px;color:#25272d;letter-spacing:-0.19px;">down. I’ve tried restarting</span>
<span class="t" style="left:737.1px;top:705.3px;font-size:11px;color:#8a8c92;letter-spacing:-0.24px;">#9282</span>
<span class="t" style="left:769.3px;top:705.3px;font-size:11px;color:#8a8c92;letter-spacing:0.14px;">.</span>
<span class="t" style="left:777.3px;top:705.3px;font-size:11px;color:#8a8c92;letter-spacing:-0.08px;">Sarah Paul</span>
<svg style="position:absolute;left:937.4px;top:672.6px" width="26.8" height="26.8" viewBox="0 0 20 20"><defs><clipPath id="a7"><circle cx="10" cy="10" r="10"/></clipPath></defs><g clip-path="url(#a7)"><rect width="20" height="20" fill="#6aa393"/><ellipse cx="10" cy="7.4" rx="4.9" ry="4.8" fill="#b99a78"/><path d="M1.5,20C1.5,15.6 5.5,14.2 10,14.2C14.5,14.2 18.5,15.6 18.5,20Z" fill="#25272b"/><ellipse cx="10" cy="9.2" rx="3.7" ry="4.7" fill="#e6c3aa"/></g></svg>
<svg style="position:absolute;left:704.5999999999999px;top:743.1px" width="16" height="12" fill="none" stroke="#c3c5ca" stroke-width="1.2"><path d="M0,1H8.2M0,4.4H8.2M0,7.7H8.2M0,11.1H15"/></svg>
<span class="t" style="left:714.9px;top:741.4px;font-size:11.3px;color:#2e3036;letter-spacing:-0.78px;">08</span>
<span class="t" style="left:737.1px;top:740.1px;font-size:13px;color:#25272d;letter-spacing:-0.40px;">My Zylker Tablet is not</span>
<span class="t" style="left:736.6px;top:755.4px;font-size:13px;color:#25272d;letter-spacing:-0.02px;">charging</span>
<span class="t" style="left:736.6px;top:774.3px;font-size:11px;color:#8a8c92;letter-spacing:-0.20px;">#2382</span>
<span class="t" style="left:771.3px;top:774.3px;font-size:11px;color:#8a8c92;letter-spacing:-0.36px;">.</span>
<span class="t" style="left:774.3px;top:774.3px;font-size:11px;color:#8a8c92;letter-spacing:-0.12px;">Havana</span>
<svg style="position:absolute;left:937.4px;top:740.6px" width="26.8" height="26.8" viewBox="0 0 20 20"><defs><clipPath id="a8"><circle cx="10" cy="10" r="10"/></clipPath></defs><g clip-path="url(#a8)"><rect width="20" height="20" fill="#4a3a36"/><ellipse cx="10" cy="10.5" rx="6.3" ry="8" fill="#8a4a2c"/><path d="M1.5,20C1.5,15.6 5.5,14.2 10,14.2C14.5,14.2 18.5,15.6 18.5,20Z" fill="#5a4a44"/><ellipse cx="10" cy="9.2" rx="3.7" ry="4.7" fill="#dba98a"/></g></svg>
<svg style="position:absolute;left:1007.2px;top:671.4px" width="20" height="20" viewBox="0 0 20 20"><circle cx="10" cy="10" r="8.4" fill="#e9775a" stroke="#6b3a20" stroke-width="1.5"/><circle cx="6.9" cy="7.3" r="1.3" fill="#8a2412"/><circle cx="13.1" cy="7.3" r="1.3" fill="#8a2412"/><path d="M6.2,14.6Q10,9.6 13.8,14.6" fill="none" stroke="#6b2a14" stroke-width="1.5" stroke-linecap="round"/></svg>
<span class="t" style="left:1036.9px;top:673.4px;font-size:12.5px;color:#1d1f25;letter-spacing:-0.27px;-webkit-text-stroke:0.3px #1d1f25;">James van der Meer</span>
<span class="t" style="left:1036.1px;top:689.0px;font-size:11px;color:#74767c;letter-spacing:0.03px;">14 Jun 09:56 AM</span>
<span class="t" style="left:1036.9px;top:708.0px;font-size:12.5px;color:#25272d;letter-spacing:-0.01px;">Unfortunately, the solution did not work for</span>
<span class="t" style="left:1036.9px;top:724.7px;font-size:12.5px;color:#25272d;letter-spacing:-0.09px;">me. Any other options?</span>
<span class="t" style="left:1036.9px;top:743.2px;font-size:11px;color:#7c7e84;letter-spacing:0.20px;">#8422</span>
<span class="t" style="left:1071.8px;top:743.2px;font-size:11px;color:#7c7e84;letter-spacing:0.29px;">Stylus not connecting</span>
<svg style="position:absolute;left:1007.2px;top:774.6px" width="20" height="20" viewBox="0 0 20 20"><circle cx="10" cy="10" r="8.4" fill="#e9775a" stroke="#6b3a20" stroke-width="1.5"/><circle cx="6.9" cy="7.3" r="1.3" fill="#8a2412"/><circle cx="13.1" cy="7.3" r="1.3" fill="#8a2412"/><path d="M6.2,14.6Q10,9.6 13.8,14.6" fill="none" stroke="#6b2a14" stroke-width="1.5" stroke-linecap="round"/></svg>
<span class="t" style="left:1036.9px;top:777.7px;font-size:12.5px;color:#1d1f25;letter-spacing:-0.05px;-webkit-text-stroke:0.3px #1d1f25;">Han Alderan</span>
<div style="position:absolute;left:0;top:0;width:1300px;height:4px;background:linear-gradient(135deg,#82c8a0 0%,#78c1a0 50%,#70baa1 100%) fixed;z-index:9"></div>
<div style="position:absolute;left:0;top:784px;width:1300px;height:4px;background:linear-gradient(135deg,#82c8a0 0%,#78c1a0 50%,#70baa1 100%) fixed;z-index:9"></div>
<div style="position:absolute;left:0;top:0;width:4px;height:788px;background:linear-gradient(135deg,#82c8a0 0%,#78c1a0 50%,#70baa1 100%) fixed;z-index:9"></div>
<div style="position:absolute;left:1296px;top:0;width:4px;height:788px;background:linear-gradient(135deg,#82c8a0 0%,#78c1a0 50%,#70baa1 100%) fixed;z-index:9"></div>
</div></body></html>
